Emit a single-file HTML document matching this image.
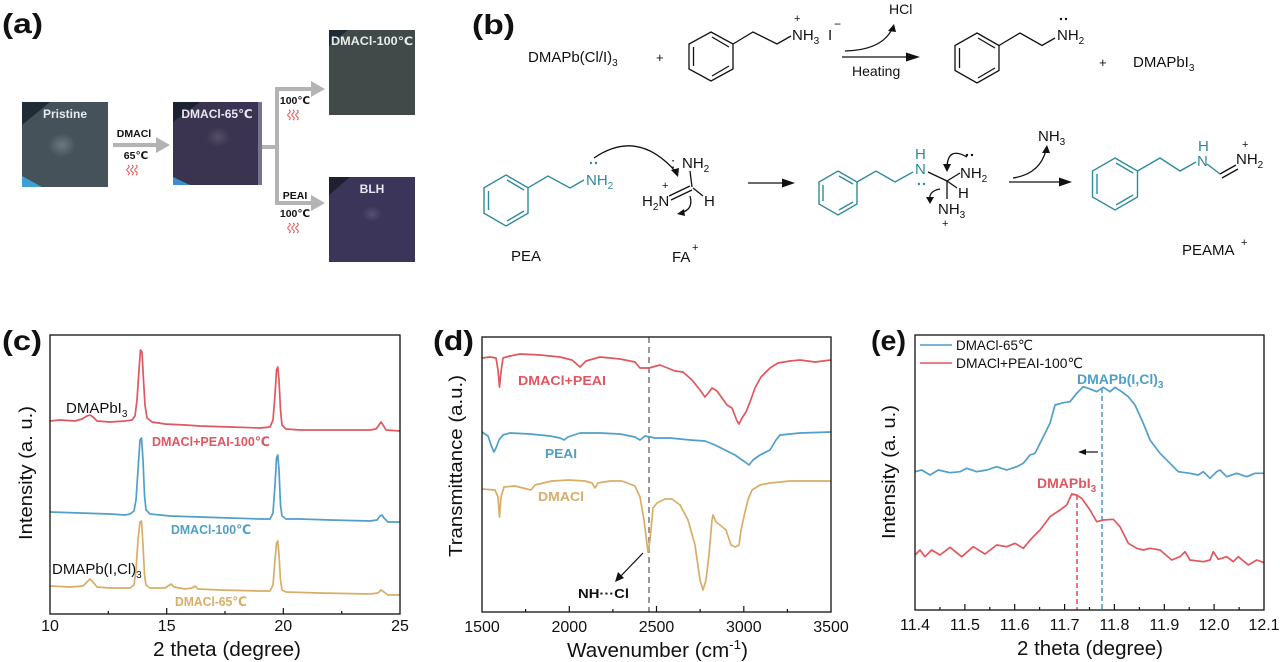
<!DOCTYPE html>
<html><head><meta charset="utf-8"><style>
html,body{margin:0;padding:0;background:#fff;}
svg{display:block;}
</style></head><body>
<svg width="1280" height="662" viewBox="0 0 1280 662" xmlns="http://www.w3.org/2000/svg" font-family="'Liberation Sans','DejaVu Sans',sans-serif">
<defs>
<radialGradient id="spot" cx="0.5" cy="0.5" r="0.5"><stop offset="0" stop-color="#fff" stop-opacity="0.22"/><stop offset="1" stop-color="#fff" stop-opacity="0"/></radialGradient>
<g id="sq"><path d="M0 10 Q2.5 8.3 0 6.7 Q-2.5 5 0 3.3 Q2.5 1.7 0 0" fill="none" stroke="#e05a5a" stroke-width="1.1"/><path d="M4 10 Q6.5 8.3 4 6.7 Q1.5 5 4 3.3 Q6.5 1.7 4 0" fill="none" stroke="#e05a5a" stroke-width="1.1"/><path d="M8 10 Q10.5 8.3 8 6.7 Q5.5 5 8 3.3 Q10.5 1.7 8 0" fill="none" stroke="#e05a5a" stroke-width="1.1"/></g>
</defs>
<rect width="1280" height="662" fill="#fff"/>

<!-- Panel labels -->
<g font-weight="bold" font-size="28" fill="#111">
<text x="2" y="33" textLength="41" lengthAdjust="spacingAndGlyphs">(a)</text>
<text x="472" y="34" textLength="43" lengthAdjust="spacingAndGlyphs">(b)</text>
<text x="2" y="350" textLength="40" lengthAdjust="spacingAndGlyphs">(c)</text>
<text x="433" y="350" textLength="41" lengthAdjust="spacingAndGlyphs">(d)</text>
<text x="871" y="350" textLength="35" lengthAdjust="spacingAndGlyphs">(e)</text>
</g>

<!-- ===== Panel (a) ===== -->
<rect x="22" y="102" width="86" height="85" fill="#45525a"/>
<polygon points="22,102 50,102 22,125" fill="#1f2c36"/>
<polygon points="22,187 22,176 42,187" fill="#3c9fd6"/>
<ellipse cx="62" cy="145" rx="14" ry="12" fill="url(#spot)"/>
<text x="65" y="118" font-size="12" font-weight="bold" fill="#e4eaee" text-anchor="middle">Pristine</text>
<rect x="173" y="102" width="89" height="83" fill="#3b3451"/>
<polygon points="173,102 200,102 173,122" fill="#1d2030"/>
<polygon points="173,185 173,177 190,185" fill="#3a8fc8"/>
<rect x="258" y="102" width="4" height="83" fill="#7a7390"/>
<ellipse cx="218" cy="137" rx="12" ry="10" fill="url(#spot)" opacity="0.6"/>
<text x="217" y="118" font-size="12" font-weight="bold" fill="#e8e6f0" text-anchor="middle">DMACl-65℃</text>
<rect x="329" y="30" width="86" height="85" fill="#414a48"/>
<polygon points="329,30 348,30 329,46" fill="#1f2c38"/>
<text x="372" y="45" font-size="11.5" font-weight="bold" fill="#e8ecec" text-anchor="middle" textLength="82" lengthAdjust="spacingAndGlyphs">DMACl-100℃</text>
<rect x="329" y="177" width="86" height="85" fill="#3b355a"/>
<polygon points="329,177 350,177 329,195" fill="#1c2030"/>
<ellipse cx="372" cy="214" rx="10" ry="8" fill="url(#spot)" opacity="0.6"/>
<text x="372" y="193" font-size="12" font-weight="bold" fill="#e8e6f0" text-anchor="middle">BLH</text>
<g stroke="#b3b3b3" stroke-width="4" fill="none">
<line x1="113" y1="145" x2="158" y2="145"/>
<polyline points="262,147 277,147"/>
<line x1="277" y1="87" x2="277" y2="205"/>
<line x1="275" y1="89" x2="313" y2="89"/>
<line x1="275" y1="203" x2="313" y2="203"/>
</g>
<g fill="#b3b3b3">
<polygon points="170,145 156,137 156,153"/>
<polygon points="325,89 311,81 311,97"/>
<polygon points="325,203 311,195 311,211"/>
</g>
<g font-size="10.5" font-weight="bold" fill="#111" text-anchor="middle">
<text x="134" y="137">DMACl</text>
<text x="136" y="159">65℃</text>
<text x="295" y="104">100℃</text>
<text x="295" y="199">PEAI</text>
<text x="295" y="217">100℃</text>
</g>
<use href="#sq" x="128" y="165"/>
<use href="#sq" x="289" y="110"/>
<use href="#sq" x="289" y="223"/>

<!-- ===== Panel (b) ===== -->
<g font-size="15" fill="#111">
<text x="528" y="62">DMAPb(Cl/I)<tspan font-size="10" dy="4">3</tspan></text>
<text x="656" y="62" font-size="13">+</text>
<text x="792" y="40">NH<tspan font-size="10" dy="4">3</tspan></text>
<text x="794" y="22" font-size="11">+</text>
<text x="828" y="40">I</text>
<text x="834" y="28" font-size="12">−</text>
<text x="889" y="14" font-size="14">HCl</text>
<text x="852" y="76" font-size="14">Heating</text>
<text x="1057" y="40">NH<tspan font-size="10" dy="4">2</tspan></text>
<text x="1099" y="67" font-size="13">+</text>
<text x="1133" y="67">DMAPbI<tspan font-size="10" dy="4">3</tspan></text>
</g>
<g stroke="#111" stroke-width="1.3" fill="none">
<polygon points="711,32 733,44 733,69 711,81 689,69 689,44"/>
<line x1="693.5" y1="47" x2="693.5" y2="66"/>
<line x1="712" y1="37" x2="729" y2="47"/>
<line x1="712" y1="76" x2="729" y2="66"/>
<polyline points="733,44 753,32 777,44 791,36"/>
<polygon points="977,33 999,45.5 999,70.5 977,83 955,70.5 955,45.5"/>
<line x1="959.5" y1="48" x2="959.5" y2="68"/>
<line x1="978" y1="38" x2="995" y2="48"/>
<line x1="978" y1="78" x2="995" y2="68"/>
<polyline points="999,45.5 1020,33 1042,45.5 1055,38"/>
<line x1="842" y1="57" x2="912" y2="57"/>
<path d="M845 51 Q882 50 892 29"/>
</g>
<polygon points="920,57 906,52.5 906,61.5" fill="#111"/>
<polygon points="894,24 888,31 896,32" fill="#111"/>
<circle cx="1061" cy="19" r="1.2" fill="#111"/><circle cx="1066" cy="19" r="1.2" fill="#111"/>

<g stroke="#2e8a99" stroke-width="1.4" fill="none">
<polygon points="506,175 528,187.8 528,213.2 506,226 484,213.2 484,187.8"/>
<line x1="488.5" y1="191" x2="488.5" y2="210"/>
<line x1="507" y1="180" x2="524" y2="190"/>
<line x1="507" y1="221" x2="524" y2="211"/>
<polyline points="528,187.8 548,176 570,188 584,180"/>
<polygon points="838,171 857,182 857,204 838,215 819,204 819,182"/>
<line x1="823" y1="185" x2="823" y2="201"/>
<line x1="839" y1="176" x2="853" y2="184"/>
<line x1="839" y1="210" x2="853" y2="202"/>
<polyline points="857,182 876,171 895,182 913,172"/>
<polygon points="1115,158 1137.5,171 1137.5,197 1115,210 1092.5,197 1092.5,171"/>
<line x1="1097" y1="174" x2="1097" y2="194"/>
<line x1="1116" y1="163" x2="1133" y2="173"/>
<line x1="1116" y1="205" x2="1133" y2="195"/>
<polyline points="1137.5,171 1160,158 1180,171 1196,162"/>
<line x1="1207" y1="164" x2="1220" y2="174"/>
</g>
<g font-size="15" fill="#2e8a99">
<text x="586" y="185">NH<tspan font-size="10" dy="4">2</tspan></text>
<text x="915" y="174">N</text>
<text x="915" y="159">H</text>
<text x="1197" y="166">N</text>
<text x="1198" y="151">H</text>
</g>
<g fill="#2e8a99"><circle cx="591" cy="163" r="1.2"/><circle cx="596" cy="163" r="1.2"/><circle cx="919" cy="184" r="1.2"/><circle cx="924" cy="184" r="1.2"/></g>
<g font-size="15" fill="#111">
<text x="511" y="261">PEA</text>
<text x="671" y="168">:</text>
<text x="682" y="168">NH<tspan font-size="10" dy="4">2</tspan></text>
<text x="642" y="206">H<tspan font-size="10" dy="4">2</tspan><tspan dy="-4">N</tspan></text>
<text x="662" y="189" font-size="11">+</text>
<text x="704" y="206">H</text>
<text x="672" y="262">FA</text>
<text x="692" y="251" font-size="11">+</text>
<text x="960" y="178">NH<tspan font-size="10" dy="4">2</tspan></text>
<text x="958" y="198">H</text>
<text x="938" y="214">NH<tspan font-size="10" dy="4">3</tspan></text>
<text x="942" y="227" font-size="11">+</text>
<text x="1038" y="141">NH<tspan font-size="10" dy="4">3</tspan></text>
<text x="1236" y="164">NH<tspan font-size="10" dy="4">2</tspan></text>
<text x="1242" y="148" font-size="11">+</text>
<text x="1182" y="255">PEAMA</text>
<text x="1241" y="246" font-size="11">+</text>
</g>
<g stroke="#111" stroke-width="1.3" fill="none">
<line x1="669" y1="196" x2="690" y2="186"/>
<line x1="671" y1="200" x2="692" y2="190"/>
<line x1="692" y1="187" x2="690" y2="171"/>
<line x1="693" y1="188" x2="703" y2="196"/>
<path d="M594 158 Q638 128 676 172"/>
<path d="M690 196 Q694 210 680 213"/>
<line x1="748" y1="183" x2="787" y2="183"/>
<line x1="928" y1="172" x2="947" y2="181"/>
<line x1="947" y1="181" x2="960" y2="173"/>
<line x1="947" y1="181" x2="957" y2="188"/>
<line x1="947" y1="181" x2="947" y2="199"/>
<path d="M967 157 Q948 146 947 167"/>
<path d="M940 189 Q928 191 930 201"/>
<line x1="1009" y1="182" x2="1064" y2="182"/>
<path d="M1013 178 Q1040 174 1046 150"/>
<line x1="1220" y1="174" x2="1236" y2="165"/>
<line x1="1222" y1="178" x2="1238" y2="169"/>
</g>
<g fill="#111">
<polygon points="678,177 671,170 679,168"/>
<polygon points="677,214 684,209 685,216"/>
<polygon points="795,183 782,178.5 782,187.5"/>
<polygon points="947,172 943,164 951,164"/>
<polygon points="930,204 926,197 934,197"/>
<polygon points="1072,182 1059,177.5 1059,186.5"/>
<polygon points="1047,145 1042,153 1050,153"/>
<circle cx="967" cy="155" r="1.2"/><circle cx="972" cy="155" r="1.2"/>
</g>

<!-- ===== Panel (c) ===== -->
<g fill="none" stroke-width="1.7" stroke-linejoin="round">
<polyline stroke="#e0575f" points="50,421 60,420 75,421 82,419 87,416 90,415 93,417 97,421 110,422 125,421 132,420 135,416 137,400 139,370 140.5,350 142,352 143.5,380 145,405 147,418 152,422 165,424 185,425 200,426 230,427 260,428 270,427 273,420 275,395 276.5,370 277.8,367 279,380 280.5,410 282,425 286,429 300,430 340,430 370,430 376,429 379,425 381,422 383,425 386,430 400,431"/>
<polyline stroke="#4f9fc8" points="50,512 80,513 110,514 125,515 130,514 134,511 136,500 138,470 140,440 141.5,438 143,460 144.5,495 146,510 150,514 170,516 200,517 230,518 260,519 270,519 273,513 275,485 276.5,458 277.8,455 279,470 280.5,505 282,516 286,519 300,519 330,520 370,521 377,520 380,516 382,515 384,518 388,522 400,522"/>
<polyline stroke="#d9ad68" points="50,586 70,587 83,586 87,582 90,579 93,582 97,587 110,588 130,588 134,585 136,570 138,540 140,522 141.5,521 143,545 144.5,575 146,585 150,588 165,588 168,586 171,584 174,587 185,589 192,588 195,586 198,589 220,590 260,591 270,591 273,585 275,560 276.5,543 277.8,541 279,555 280.5,580 282,590 286,592 320,593 370,594 378,593 381,590 384,592 388,595 400,595"/>
</g>
<rect x="50" y="335" width="350" height="279" fill="none" stroke="#111" stroke-width="1.3"/>
<g stroke="#111" stroke-width="1.2">
<line x1="166.7" y1="614" x2="166.7" y2="608"/><line x1="283.3" y1="614" x2="283.3" y2="608"/>
<line x1="108.3" y1="614" x2="108.3" y2="611"/><line x1="225" y1="614" x2="225" y2="611"/><line x1="341.7" y1="614" x2="341.7" y2="611"/>
</g>
<g font-size="16" fill="#111" text-anchor="middle">
<text x="50" y="631">10</text><text x="166.7" y="631">15</text><text x="283.3" y="631">20</text><text x="400" y="631">25</text>
</g>
<text x="227" y="656" font-size="20" fill="#111" text-anchor="middle" textLength="148" lengthAdjust="spacingAndGlyphs">2 theta (degree)</text>
<text transform="translate(32,473) rotate(-90)" font-size="18" fill="#111" text-anchor="middle" textLength="134" lengthAdjust="spacingAndGlyphs">Intensity (a. u.)</text>
<text x="66" y="413" font-size="15" fill="#111">DMAPbI<tspan font-size="10" dy="4">3</tspan></text>
<text x="52" y="574" font-size="15" fill="#111">DMAPb(I,Cl)<tspan font-size="10" dy="4">3</tspan></text>
<g font-size="13" font-weight="bold">
<text x="152" y="446" fill="#e0575f" textLength="118" lengthAdjust="spacingAndGlyphs">DMACl+PEAI-100℃</text>
<text x="171" y="534" fill="#4f9fc8" textLength="80" lengthAdjust="spacingAndGlyphs">DMACl-100℃</text>
<text x="175" y="606" fill="#d9ad68" textLength="72" lengthAdjust="spacingAndGlyphs">DMACl-65℃</text>
</g>

<!-- ===== Panel (d) ===== -->
<line x1="649" y1="337" x2="649" y2="612" stroke="#777" stroke-width="1.5" stroke-dasharray="6,4"/>
<g fill="none" stroke-width="1.7" stroke-linejoin="round">
<polyline stroke="#e0575f" points="482,358 490,357 496,358 498,370 499.5,387 501,372 503,358 510,356 520,354 540,355 560,357 572,360 580,367 586,361 600,357 620,359 635,362 640,368 649,368 660,365 675,371 683,372 692,380 700,390 705,397 709,392 712,388 717,391 722,398 727,405 732,408 737,421 739,424 742,418 746,412 750,402 755,388 761,377 770,368 778,363 790,361 800,360 815,362 831,360"/>
<polyline stroke="#4f9fc8" points="482,432 488,436 491,445 494,452 496,448 499,440 503,435 510,433 530,434 550,436 560,438 564,440 568,437 580,433 600,433 620,434 635,437 640,440 645,436 655,438 670,438 690,440 705,441 715,445 725,450 735,455 745,462 749,465 753,460 760,455 770,450 776,440 780,435 800,433 831,432"/>
<polyline stroke="#d9ad68" points="482,489 495,490 498,497 499.5,517 501,497 504,487 515,486 531,490 535,485 552,481 569,480 585,481 592,483 595,488 598,483 610,481 622,481 635,486 640,497 644,520 648,552 650,540 653,508 657,503 665,499 672,499 680,505 688,520 695,545 700,580 703,590 706,580 709,555 712,520 713,515 716,522 720,525 726,530 731,545 735,547 739,545 741,530 745,512 748,500 752,490 760,485 770,483 790,481 831,481"/>
</g>
<rect x="482" y="337" width="349" height="275" fill="none" stroke="#111" stroke-width="1.3"/>
<g stroke="#111" stroke-width="1.2">
<line x1="569.3" y1="612" x2="569.3" y2="606"/><line x1="656.5" y1="612" x2="656.5" y2="606"/><line x1="743.8" y1="612" x2="743.8" y2="606"/>
<line x1="525.6" y1="612" x2="525.6" y2="609"/><line x1="612.9" y1="612" x2="612.9" y2="609"/><line x1="700.1" y1="612" x2="700.1" y2="609"/><line x1="787.4" y1="612" x2="787.4" y2="609"/>
</g>
<g font-size="16" fill="#111" text-anchor="middle">
<text x="482" y="632">1500</text><text x="569.3" y="632">2000</text><text x="656.5" y="632">2500</text><text x="743.8" y="632">3000</text><text x="831" y="632">3500</text>
</g>
<text x="567" y="657" font-size="20" fill="#111" textLength="181" lengthAdjust="spacingAndGlyphs">Wavenumber (cm<tspan font-size="13" dy="-8">-1</tspan><tspan dy="8">)</tspan></text>
<text transform="translate(462,466) rotate(-90)" font-size="18" fill="#111" text-anchor="middle" textLength="182" lengthAdjust="spacingAndGlyphs">Transmittance (a.u.)</text>
<g font-size="13" font-weight="bold">
<text x="518" y="385" fill="#e0575f" textLength="88" lengthAdjust="spacingAndGlyphs">DMACl+PEAI</text>
<text x="545" y="458" fill="#4f9fc8" textLength="32" lengthAdjust="spacingAndGlyphs">PEAI</text>
<text x="538" y="501" fill="#d9ad68" textLength="46" lengthAdjust="spacingAndGlyphs">DMACl</text>
<text x="578" y="598" fill="#111" textLength="51" lengthAdjust="spacingAndGlyphs">NH···Cl</text>
</g>
<line x1="643" y1="553" x2="619" y2="578" stroke="#111" stroke-width="1.2"/>
<polygon points="615,582 618,572 624,578" fill="#111"/>

<!-- ===== Panel (e) ===== -->
<line x1="1077" y1="495" x2="1077" y2="610" stroke="#e0575f" stroke-width="1.6" stroke-dasharray="5,3"/>
<line x1="1102" y1="388" x2="1102" y2="610" stroke="#4f9fc8" stroke-width="1.6" stroke-dasharray="5,3"/>
<g fill="none" stroke-width="1.7" stroke-linejoin="round">
<polyline stroke="#4f9fc8" points="915,471.7 921.7,470 930,475 938.3,470 950,472.7 960,471.7 966.7,468.3 976.7,471.7 986.7,470 996.7,466.7 1006.7,470 1016.7,466.7 1023.3,463.3 1030,455 1035,453.3 1041.7,440 1050,423.3 1055,405 1063.3,402.7 1070,401.7 1076.7,393.3 1083.3,386.7 1088.3,388.3 1096.7,391.7 1103.3,387.3 1110,391.7 1115,387.3 1121.7,391.7 1128.3,396.7 1135,405 1143.3,423.3 1150,440 1160,453.3 1170,463.3 1178.3,471.7 1190,473.3 1198.3,475 1203.3,471.7 1210,478.3 1216.7,471.7 1220,470 1226.7,476.7 1236.7,473.3 1246.7,476.7 1255,473.3 1264,473.3"/>
<polyline stroke="#e0575f" points="915,555 920,550 925,556.7 931.7,550 940,555 950,547.3 961.7,556.7 973.3,546.7 985,554 996.7,545 1006.7,546.7 1015,543.3 1023.3,548.3 1031.7,538.3 1040,530 1050,516.7 1060,510 1066.7,505 1071.7,494 1076.7,495 1081.7,498.3 1090,510 1096.7,521.7 1103.3,520 1113.3,519.3 1120,526.7 1128.3,543.3 1136.7,548.3 1143.3,550 1150,548.3 1160,550 1171.7,560 1180,556.7 1185,551.7 1190,560 1203.3,561.7 1210,560 1213.3,551.7 1218.3,559.3 1226.7,556.7 1233.3,561.7 1238.3,556.7 1248.3,565 1256.7,560 1264,562.7"/>
</g>
<rect x="915" y="335" width="349" height="275" fill="none" stroke="#111" stroke-width="1.3"/>
<g stroke="#111" stroke-width="1.2">
<line x1="964.9" y1="610" x2="964.9" y2="604"/><line x1="1014.7" y1="610" x2="1014.7" y2="604"/><line x1="1064.6" y1="610" x2="1064.6" y2="604"/><line x1="1114.4" y1="610" x2="1114.4" y2="604"/><line x1="1164.3" y1="610" x2="1164.3" y2="604"/><line x1="1214.1" y1="610" x2="1214.1" y2="604"/>
<line x1="939.9" y1="610" x2="939.9" y2="607"/><line x1="989.8" y1="610" x2="989.8" y2="607"/><line x1="1039.6" y1="610" x2="1039.6" y2="607"/><line x1="1089.5" y1="610" x2="1089.5" y2="607"/><line x1="1139.4" y1="610" x2="1139.4" y2="607"/><line x1="1189.2" y1="610" x2="1189.2" y2="607"/><line x1="1239.1" y1="610" x2="1239.1" y2="607"/>
</g>
<g font-size="16" fill="#111" text-anchor="middle">
<text x="915" y="630">11.4</text><text x="964.9" y="630">11.5</text><text x="1014.7" y="630">11.6</text><text x="1064.6" y="630">11.7</text><text x="1114.4" y="630">11.8</text><text x="1164.3" y="630">11.9</text><text x="1214.1" y="630">12.0</text><text x="1264" y="630">12.1</text>
</g>
<text x="1090" y="655" font-size="20" fill="#111" text-anchor="middle" textLength="146" lengthAdjust="spacingAndGlyphs">2 theta (degree)</text>
<text transform="translate(895,472) rotate(-90)" font-size="18" fill="#111" text-anchor="middle" textLength="134" lengthAdjust="spacingAndGlyphs">Intensity (a. u.)</text>
<line x1="920" y1="345" x2="952" y2="345" stroke="#4f9fc8" stroke-width="1.6"/>
<line x1="920" y1="363" x2="952" y2="363" stroke="#e0575f" stroke-width="1.6"/>
<g font-size="14" fill="#111">
<text x="956" y="350" textLength="77" lengthAdjust="spacingAndGlyphs">DMACl-65℃</text>
<text x="956" y="368" textLength="127" lengthAdjust="spacingAndGlyphs">DMACl+PEAI-100℃</text>
</g>
<g font-size="14" font-weight="bold">
<text x="1077" y="384" fill="#4f9fc8">DMAPb(I,Cl)<tspan font-size="10" dy="4">3</tspan></text>
<text x="1037" y="488" fill="#e0575f">DMAPbI<tspan font-size="10" dy="4">3</tspan></text>
</g>
<line x1="1098" y1="452" x2="1084" y2="452" stroke="#111" stroke-width="1.2"/>
<polygon points="1078,452 1086,449 1086,455" fill="#111"/>
</svg>
</body></html>
